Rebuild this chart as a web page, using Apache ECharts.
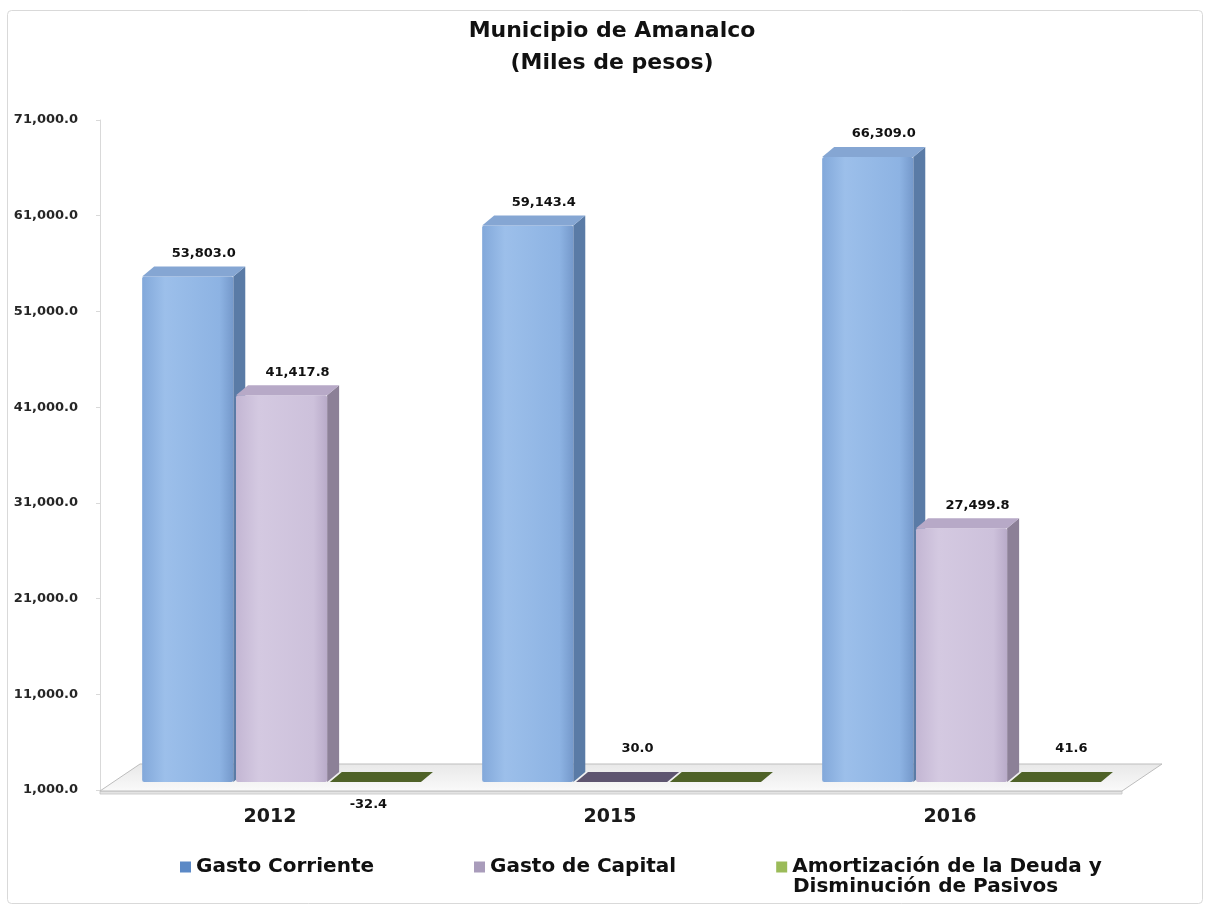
<!DOCTYPE html>
<html>
<head>
<meta charset="utf-8">
<script src="https://cdn.jsdelivr.net/npm/echarts@6/dist/echarts.min.js"></script>
<style>html,body{margin:0;background:#fff}#main{width:1206px;height:907px}</style>
</head>
<body>
<div id="main"></div>
<script>
var categories = ['2012', '2015', '2016'];
var gastoCorriente = [53803.0, 59143.4, 66309.0];
var gastoCapital = [41417.8, 30.0, 27499.8];
var amortizacion = [-32.4, 0, 41.6];
var seriesNames = ['Gasto Corriente', 'Gasto de Capital', 'Amortización de la Deuda y Disminución de Pasivos'];
var yMin = 1000, yMax = 71000, yStep = 10000;

var chart = echarts.init(document.getElementById('main'));

// fake 3D depth of the bars
var DX = 12, DY = -10, LIFT = 8;
var LABEL_FONT = 'bold 13px "DejaVu Sans"';

function fmt(v) {
    return v.toLocaleString('en-US', {minimumFractionDigits: 1, maximumFractionDigits: 1});
}

function grad(stops) {
    return new echarts.graphic.LinearGradient(0, 0, 1, 0, stops);
}

var looks = [
    {
        front: [{offset: 0, color: '#82A8DA'}, {offset: 0.25, color: '#9CBFEA'}, {offset: 0.85, color: '#8DB3E3'}, {offset: 1, color: '#7599CB'}],
        side: '#5A7BA6', top: '#85A6D3', flat: '#5A7BA6'
    },
    {
        front: [{offset: 0, color: '#C3B6D3'}, {offset: 0.25, color: '#D4C9E1'}, {offset: 0.85, color: '#CDC1DB'}, {offset: 1, color: '#B9ABC9'}],
        side: '#8C8097', top: '#B7A9C7', flat: '#5E5570'
    },
    {
        front: [{offset: 0, color: '#7E9A45'}, {offset: 1, color: '#6E8A3A'}],
        side: '#4F6228', top: '#6E8A3A', flat: '#4F6228'
    }
];

function barRenderer(slot) {
    var look = looks[slot];
    return function (params, api) {
        var i = api.value(0), v = api.value(1);
        var band = api.size([1, 0])[0];
        var base = api.coord([i, yMin]);
        var bottom = base[1] - LIFT;
        var top = v > yMin ? api.coord([i, v])[1] - LIFT : bottom;
        var w = band * 0.268;
        var x0 = base[0] + band * (-0.376 + slot * 0.276);
        var x1 = x0 + w;
        var kids = [];
        var topPts = [[x0, top], [x0 + DX, top + DY], [x1 + DX, top + DY], [x1, top]];
        if (top < bottom) {
            kids.push({type: 'polygon', shape: {points: [[x1, top], [x1 + DX, top + DY], [x1 + DX, bottom + DY], [x1, bottom]]},
                style: {fill: look.side}});
            kids.push({type: 'rect', shape: {x: x0, y: top, width: w, height: bottom - top, r: 2},
                style: {fill: grad(look.front)}});
            kids.push({type: 'polygon', shape: {points: topPts}, style: {fill: look.top}});
        } else {
            kids.push({type: 'polygon', shape: {points: topPts}, style: {fill: look.flat}});
        }
        if (v !== 0) {
            var lx, ly;
            if (v < 0) {
                lx = (x0 + x1) / 2 - 7;
                ly = base[1] + 15;
            } else {
                lx = (x0 + x1) / 2 + 16;
                ly = Math.min(top + DY - 13, bottom - 33);
            }
            kids.push({type: 'text', style: {text: fmt(v), x: lx, y: ly, align: 'center', verticalAlign: 'middle',
                font: LABEL_FONT, fill: '#111'}});
        }
        return {type: 'group', children: kids};
    };
}

function floorRenderer(params, api) {
    var cs = params.coordSys;
    var fy = cs.y + cs.height + 1, fx = cs.x, fw = cs.width + 2;
    return {type: 'group', children: [
        {type: 'rect', shape: {x: fx, y: fy, width: fw, height: 3},
            style: {fill: '#e4e4e4', stroke: '#c4c4c4', lineWidth: 0.8}},
        {type: 'polygon', shape: {points: [[fx, fy], [fx + 40, fy - 27], [fx + fw + 40, fy - 27], [fx + fw, fy]]},
            style: {fill: new echarts.graphic.LinearGradient(0, 0, 0, 1, [{offset: 0, color: '#e8e8e8'}, {offset: 1, color: '#fafafa'}]),
                stroke: '#bdbdbd', lineWidth: 1}}
    ]};
}

function toData(arr) {
    return arr.map(function (v, i) { return [i, v]; });
}

var valueSets = [gastoCorriente, gastoCapital, amortizacion];
var legendColors = ['#5B89C6', '#A99CBB', '#9BBB59'];

var series = [{
    type: 'custom', name: 'piso', z: 1, silent: true,
    renderItem: floorRenderer, data: [[0, yMin]], encode: {x: 0, y: 1}
}];
valueSets.forEach(function (arr, k) {
    series.push({
        type: 'custom',
        name: seriesNames[k],
        z: 2,
        itemStyle: {color: legendColors[k]},
        renderItem: barRenderer(k),
        data: toData(arr),
        encode: {x: 0, y: 1}
    });
});

var LEGEND_FONT = {fontFamily: 'DejaVu Sans', fontWeight: 'bold', fontSize: 20, lineHeight: 24, color: '#111'};

var option = {
    backgroundColor: '#fff',
    animation: false,
    title: {
        text: 'Municipio de Amanalco\n(Miles de pesos)',
        left: 612,
        textAlign: 'center',
        top: 15,
        padding: 0,
        textStyle: {fontFamily: 'DejaVu Sans', fontWeight: 'bold', fontSize: 22, lineHeight: 32, color: '#111'}
    },
    legend: {
        left: 175,
        top: 850,
        itemWidth: 11,
        itemHeight: 11,
        itemGap: 100,
        icon: 'rect',
        data: seriesNames,
        // the last name wraps: first line here, second line drawn below as a graphic text
        formatter: function (n) {
            return n === seriesNames[2] ? 'Amortización de la Deuda y' : n;
        },
        textStyle: LEGEND_FONT
    },
    graphic: [{
        type: 'rect', left: 5, top: 8, silent: true,
        shape: {width: 1195, height: 893, r: 4},
        style: {fill: 'none', stroke: '#d9d9d9', lineWidth: 1}
    }, {
        type: 'text', left: 793, top: 877, silent: true,
        style: {text: 'Disminución de Pasivos', font: 'bold 20px "DejaVu Sans"', fill: '#111'}
    }],
    grid: {left: 100, right: 86, top: 120, bottom: 117},
    xAxis: {
        type: 'category',
        data: categories,
        axisLine: {show: false},
        axisTick: {show: false},
        axisLabel: {margin: 18, fontFamily: 'DejaVu Sans', fontWeight: 'bold', fontSize: 19, color: '#1a1a1a'}
    },
    yAxis: {
        type: 'value',
        min: yMin,
        max: yMax,
        interval: yStep,
        axisLine: {show: true, lineStyle: {color: '#d9d9d9'}},
        axisTick: {show: true, length: 4, lineStyle: {color: '#d9d9d9'}},
        splitLine: {show: false},
        axisLabel: {margin: 22, fontFamily: 'DejaVu Sans', fontWeight: 'bold', fontSize: 13, color: '#262626',
            formatter: function (v) { return fmt(v); }}
    },
    series: series
};

chart.setOption(option);
</script>
</body>
</html>
